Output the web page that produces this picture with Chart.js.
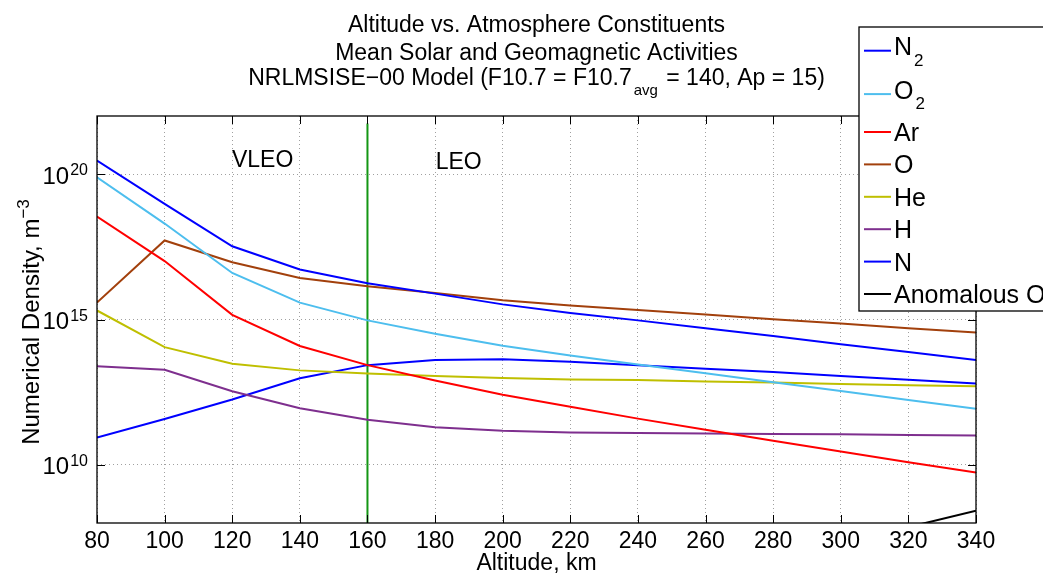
<!DOCTYPE html>
<html>
<head>
<meta charset="utf-8">
<title>Altitude vs. Atmosphere Constituents</title>
<script src="https://cdn.jsdelivr.net/npm/chart.js@4.4.1/dist/chart.umd.min.js"></script>
<style>
  html, body { margin: 0; padding: 0; background: #fff; }
  #wrap { width: 1043px; height: 574px; }
</style>
</head>
<body>
<div id="wrap"><canvas id="chart" width="1043" height="574"></canvas></div>
<script>
// Altitude grid, km
const altitudes = [80, 100, 120, 140, 160, 180, 200, 220, 240, 260, 280, 300, 320, 340];

// log10 of number density (m^-3)
const n2Exp   = [20.47, 18.98, 17.52, 16.72, 16.25, 15.89, 15.52, 15.22, 14.97, 14.70, 14.43, 14.15, 13.88, 13.61];
const o2Exp   = [19.89, 18.30, 16.60, 15.58, 14.97, 14.51, 14.10, 13.76, 13.45, 13.15, 12.84, 12.54, 12.23, 11.93];
const arExp   = [18.54, 17.01, 15.16, 14.09, 13.43, 12.90, 12.41, 12.00, 11.59, 11.21, 10.83, 10.46, 10.09, 9.74];
const oExp    = [15.58, 17.72, 16.97, 16.43, 16.14, 15.91, 15.66, 15.48, 15.33, 15.17, 15.01, 14.86, 14.70, 14.55];
const heExp   = [15.31, 14.05, 13.48, 13.25, 13.14, 13.06, 12.99, 12.94, 12.92, 12.87, 12.83, 12.78, 12.74, 12.70];
const hExp    = [13.39, 13.27, 12.53, 11.95, 11.55, 11.29, 11.17, 11.11, 11.10, 11.08, 11.06, 11.05, 11.03, 11.01];
const nExp    = [10.94, 11.58, 12.25, 12.98, 13.43, 13.61, 13.63, 13.55, 13.43, 13.31, 13.19, 13.06, 12.93, 12.80];
const anomOExp = [null, null, null, null, null, null, null, null, null, null, null, null, 7.86, 8.42];

const seriesNames  = ['N2', 'O2', 'Ar', 'O', 'He', 'H', 'N', 'Anomalous O'];
const seriesExps   = [n2Exp, o2Exp, arExp, oExp, heExp, hExp, nExp, anomOExp];
const seriesColors = ['#0000ff', '#4dbeee', '#ff0000', '#a2400c', '#bfbf00', '#7e2f8e', '#0000ff', '#000000'];

// VLEO / LEO boundary
const boundaryAlt = 160;
const boundaryExp = [21.74, 8];

const regionLabels = ['VLEO', 'LEO'];
const regionLabelAlt = [129, 187];
const regionLabelExp = [20.48, 20.4];

const yTickExps = [10, 15, 20];
const yMinExp = 8, yMaxExp = 22;

const titleLines = ['Altitude vs. Atmosphere Constituents', 'Mean Solar and Geomagnetic Activities'];
const xAxisTitle = 'Altitude, km';

const FONT = '"Liberation Sans", Arial, Helvetica, sans-serif';
const font = size => size + 'px ' + FONT;
const pow10 = e => (e === null ? null : Math.pow(10, e));

// draw text made of pieces with different size / vertical offset, centred on cx
function drawPieces(ctx, pieces, cx, baseY) {
    let total = 0;
    pieces.forEach(p => { ctx.font = font(p.size); p.w = ctx.measureText(p.text).width; total += p.w + (p.gap || 0); });
    let xx = cx - total / 2;
    ctx.textAlign = 'left';
    pieces.forEach(p => {
        ctx.font = font(p.size);
        ctx.fillText(p.text, xx + (p.gap || 0), baseY + (p.dy || 0));
        xx += p.w + (p.gap || 0);
    });
}

const decorPlugin = {
    id: 'decor',
    afterDraw(chart) {
        const { ctx, chartArea: a, scales: { x, y } } = chart;
        ctx.save();
        ctx.fillStyle = '#000';
        ctx.strokeStyle = '#000';

        // axes box + inward ticks
        ctx.lineWidth = 1.3;
        ctx.strokeRect(a.left, a.top, a.right - a.left, a.bottom - a.top);
        const tl = 8;
        ctx.lineWidth = 1;
        ctx.beginPath();
        x.ticks.forEach(t => {
            const px = Math.round(x.getPixelForValue(t.value)) + 0.5;
            ctx.moveTo(px, a.bottom); ctx.lineTo(px, a.bottom - tl);
            ctx.moveTo(px, a.top); ctx.lineTo(px, a.top + tl);
        });
        y.ticks.forEach(t => {
            const py = Math.round(y.getPixelForValue(t.value)) + 0.5;
            ctx.moveTo(a.left, py); ctx.lineTo(a.left + tl, py);
            ctx.moveTo(a.right, py); ctx.lineTo(a.right - tl, py);
        });
        ctx.stroke();

        // x tick labels
        ctx.font = font(23);
        ctx.textAlign = 'center';
        ctx.textBaseline = 'alphabetic';
        x.ticks.forEach(t => ctx.fillText(String(t.value), x.getPixelForValue(t.value), 548));

        // y tick labels 10^n
        y.ticks.forEach(t => {
            const py = y.getPixelForValue(t.value);
            const exp = String(Math.round(Math.log10(t.value)));
            const right = a.left - 9;
            ctx.font = font(16);
            const ew = ctx.measureText(exp).width;
            ctx.textAlign = 'left';
            ctx.fillText(exp, right - ew, py + 1);
            ctx.font = font(24);
            ctx.textAlign = 'right';
            ctx.fillText('10', right - ew - 1, py + 9.5);
        });

        // axis titles
        ctx.font = font(23);
        ctx.textAlign = 'center';
        ctx.fillText(xAxisTitle, (a.left + a.right) / 2, 570);
        ctx.save();
        ctx.translate(39, 322);
        ctx.rotate(-Math.PI / 2);
        drawPieces(ctx, [
            { text: 'Numerical Density, m', size: 24 },
            { text: '\u22123', size: 17, dy: -10 }
        ], 0, 0);
        ctx.restore();

        // region labels
        ctx.font = font(23);
        ctx.textAlign = 'center';
        ctx.textBaseline = 'middle';
        regionLabels.forEach((lbl, i) => {
            ctx.fillText(lbl, x.getPixelForValue(regionLabelAlt[i]), y.getPixelForValue(pow10(regionLabelExp[i])));
        });
        ctx.textBaseline = 'alphabetic';

        // title
        const cx = (a.left + a.right) / 2;
        ctx.font = font(23);
        ctx.textAlign = 'center';
        ctx.fillText(titleLines[0], cx, 32);
        ctx.fillText(titleLines[1], cx, 59.5);
        drawPieces(ctx, [
            { text: 'NRLMSISE\u221200 Model (F10.7 = F10.7', size: 23 },
            { text: 'avg', size: 15, dy: 10, gap: 2 },
            { text: ' = 140, Ap = 15)', size: 23, gap: 2 }
        ], cx, 85);

        // legend box
        const lx = 859, ly = 27, lw = 200, lh = 284;
        ctx.fillStyle = '#fff';
        ctx.fillRect(lx, ly, lw, lh);
        ctx.lineWidth = 1.3;
        ctx.strokeStyle = '#000';
        ctx.strokeRect(lx, ly, lw, lh);
        let rowTop = ly + 2;
        seriesNames.forEach((name, i) => {
            const m = name.match(/^([A-Za-z ]+?)(\d*)$/);
            const main = m[1], sub = m[2];
            const h = 32.4 + (sub ? 11 : 0);
            const cy = rowTop + h / 2;
            ctx.strokeStyle = seriesColors[i];
            ctx.lineWidth = 2;
            ctx.beginPath();
            ctx.moveTo(864, cy); ctx.lineTo(891, cy);
            ctx.stroke();
            ctx.fillStyle = '#000';
            ctx.textAlign = 'left';
            ctx.font = font(25);
            const base = cy + (sub ? 4.5 : 9);
            ctx.fillText(main, 894, base);
            if (sub) {
                const w = ctx.measureText(main).width;
                ctx.font = font(17);
                ctx.fillText(sub, 894 + w + 2, cy + 15);
            }
            rowTop += h;
        });
        ctx.restore();
    }
};

const datasets = seriesNames.map((name, i) => ({
    label: name,
    data: altitudes.map((alt, j) => ({ x: alt, y: pow10(seriesExps[i][j]) })),
    borderColor: seriesColors[i],
    backgroundColor: seriesColors[i],
    borderWidth: 2,
    pointRadius: 0,
    tension: 0,
    spanGaps: false
}));

datasets.push({
    label: 'boundary',
    data: boundaryExp.map(e => ({ x: boundaryAlt, y: pow10(e) })),
    borderColor: 'rgb(20,150,20)',
    borderWidth: 2,
    pointRadius: 0
});

new Chart(document.getElementById('chart').getContext('2d'), {
    type: 'line',
    data: { datasets },
    options: {
        responsive: false,
        animation: false,
        layout: { padding: { left: 97, right: 67, top: 116, bottom: 51 } },
        plugins: {
            legend: { display: false },
            title: { display: false },
            tooltip: { enabled: false }
        },
        scales: {
            x: {
                type: 'linear',
                min: 80,
                max: 340,
                ticks: { stepSize: 20, display: false },
                grid: { color: '#a0a0a0', drawTicks: false, lineWidth: 1 },
                border: { display: false, dash: [1, 3] }
            },
            y: {
                type: 'logarithmic',
                min: pow10(yMinExp),
                max: pow10(yMaxExp),
                afterBuildTicks: scale => {
                    scale.ticks = yTickExps.map(e => ({ value: pow10(e) }));
                },
                ticks: { display: false },
                grid: { color: '#a0a0a0', drawTicks: false, lineWidth: 1 },
                border: { display: false, dash: [1, 3] }
            }
        }
    },
    plugins: [decorPlugin]
});
</script>
</body>
</html>
